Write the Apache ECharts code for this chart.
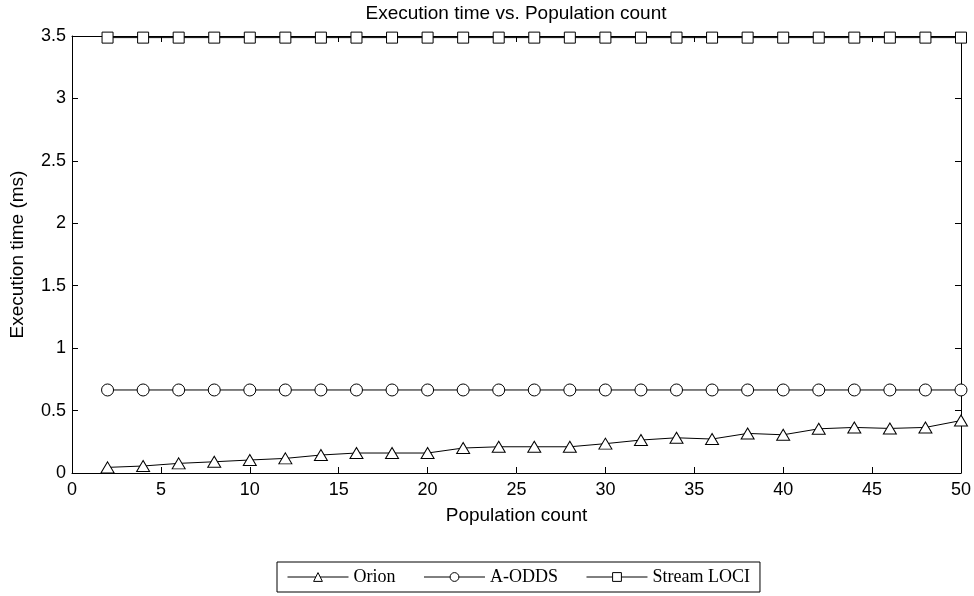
<!DOCTYPE html>
<html>
<head>
<meta charset="utf-8">
<script src="https://cdn.jsdelivr.net/npm/echarts@6/dist/echarts.min.js"></script>
<style>html,body{margin:0;padding:0;background:#fff}#c{width:974px;height:596px}</style>
</head>
<body>
<div id="c"></div>
<script>
var populationCounts = [2,4,6,8,10,12,14,16,18,20,22,24,26,28,30,32,34,36,38,40,42,44,46,48,50];
var orionTimes = [0.045,0.056,0.077,0.09,0.104,0.117,0.144,0.16,0.16,0.16,0.2,0.21,0.21,0.21,0.235,0.264,0.282,0.272,0.317,0.306,0.354,0.365,0.357,0.365,0.42];
var aoddsTimes = [0.665,0.665,0.665,0.665,0.665,0.665,0.665,0.665,0.665,0.665,0.665,0.665,0.665,0.665,0.665,0.665,0.665,0.665,0.665,0.665,0.665,0.665,0.665,0.665,0.665];
var streamLociTimes = [3.487,3.487,3.487,3.487,3.487,3.487,3.487,3.487,3.487,3.487,3.487,3.487,3.487,3.487,3.487,3.487,3.487,3.487,3.487,3.487,3.487,3.487,3.487,3.487,3.487];
var seriesNames = ['Orion','A-ODDS','Stream LOCI'];
var titleText = 'Execution time vs. Population count';
var xName = 'Population count';
var yName = 'Execution time (ms)';

function pairs(vals){ return populationCounts.map(function(x,i){ return [x, vals[i]]; }); }

var tickFont = {fontFamily:'Liberation Sans', fontSize:18, color:'#000'};
var nameFont = {fontFamily:'Liberation Sans', fontSize:19, color:'#000'};
function mkSeries(name, vals, symbol, size){
  return {
    name:name, type:'line', data:pairs(vals), symbol:symbol, symbolSize:size,
    showAllSymbol:true, animation:false,
    lineStyle:{color:'#000', width:1},
    itemStyle:{color:'#fff', borderColor:'#000', borderWidth:1},
    emphasis:{disabled:true}
  };
}
var tickStyle = {show:true, inside:true, length:6, lineStyle:{color:'#000', width:1}};
var lineStyleAx = {show:true, onZero:false, lineStyle:{color:'#000', width:1}};
var chart = echarts.init(document.getElementById('c'), null, {renderer:'canvas'});
chart.setOption({
  backgroundColor:'#fff',
  animation:false,
  title:{text:titleText, left:516, top:4, padding:0, textAlign:'center',
    textStyle:{fontFamily:'Liberation Sans', fontSize:19, fontWeight:'normal', color:'#000'}},
  grid:{left:70, right:12, top:36, bottom:123, containLabel:false},
  legend:{
    data:seriesNames, left:277, top:562, orient:'horizontal',
    itemWidth:61, itemHeight:11, itemGap:28,
    padding:[6,10,6,10],
    borderColor:'#000', borderWidth:1, backgroundColor:'#fff',
    lineStyle:{width:1, color:'#000'},
    itemStyle:{borderWidth:1, borderColor:'#000', color:'#fff'},
    textStyle:{fontFamily:'Liberation Serif', fontSize:18, color:'#000'}
  },
  xAxis:[{
    type:'value', min:0, max:50, interval:5,
    name:xName, nameLocation:'middle', nameGap:33,
    nameTextStyle:nameFont,
    axisLine:lineStyleAx, axisTick:tickStyle,
    axisLabel:Object.assign({margin:8}, tickFont),
    splitLine:{show:false}
  },{
    type:'value', min:0, max:50, interval:5, position:'top',
    axisLine:lineStyleAx, axisTick:tickStyle,
    axisLabel:{show:false}, splitLine:{show:false}
  }],
  yAxis:[{
    type:'value', min:0, max:3.5, interval:0.5,
    name:yName, nameLocation:'middle', nameGap:45,
    nameTextStyle:nameFont,
    axisLine:lineStyleAx, axisTick:tickStyle,
    axisLabel:Object.assign({margin:6}, tickFont),
    splitLine:{show:false}
  },{
    type:'value', min:0, max:3.5, interval:0.5, position:'right',
    axisLine:lineStyleAx, axisTick:tickStyle,
    axisLabel:{show:false}, splitLine:{show:false}
  }],
  series:[
    mkSeries(seriesNames[0], orionTimes, 'triangle', [13,11]),
    mkSeries(seriesNames[1], aoddsTimes, 'circle', 12),
    mkSeries(seriesNames[2], streamLociTimes, 'rect', 11)
  ]
});
</script>
</body>
</html>
